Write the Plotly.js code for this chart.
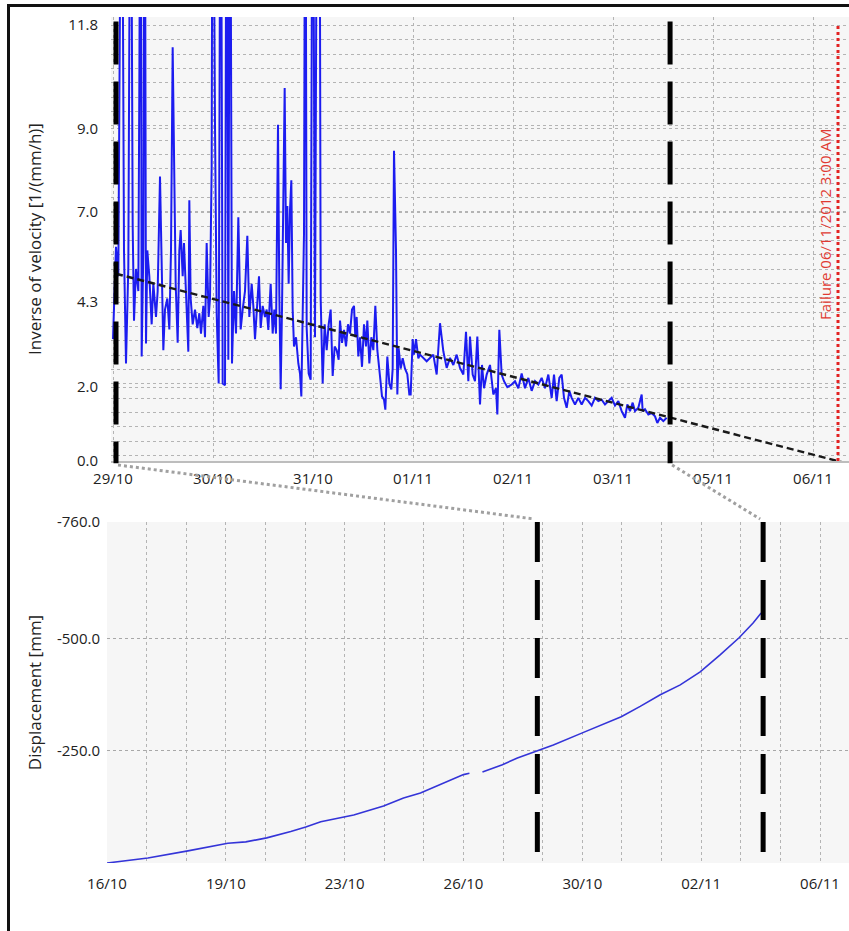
<!DOCTYPE html>
<html>
<head>
<meta charset="utf-8">
<script src="https://cdn.plot.ly/plotly-3.0.1.min.js"></script>
<style>
html,body{margin:0;padding:0;background:#ffffff;overflow:hidden;}
#wrap{position:relative;width:849px;height:931px;}
#chart{position:absolute;left:0;top:0;width:849px;height:931px;}
#frame{position:absolute;left:7px;top:4px;width:900px;height:960px;border-top:3px solid #111;border-left:3px solid #111;pointer-events:none;}
</style>
</head>
<body>
<div id="wrap"><div id="chart"></div><div id="frame"></div></div>
<script>
// ---------- Top chart: inverse of velocity ----------
const velStart = '2012-10-29T00:00:00Z';
const velHours = [
  0, 0.24, 0.72, 1.28, 2.08, 2.64, 3.12, 3.68, 4.24, 4.72,
  5.04, 5.52, 6.08, 6.32, 6.64, 6.88, 7.28, 7.6, 7.92, 8.24,
  8.72, 9.28, 9.68, 10.32, 10.72, 11.28, 11.68, 12.08, 12.48, 13.04,
  13.52, 13.92, 14.32, 14.64, 15.04, 15.52, 15.92, 16.24, 16.72, 17.04,
  17.52, 18.08, 18.32, 18.64, 19.12, 19.68, 20.24, 20.72, 21.12, 21.68,
  22.08, 22.48, 22.96, 23.28, 23.68, 23.92, 24.48, 24.88, 25.36, 25.84,
  26.32, 26.88, 27.28, 27.68, 28.08, 28.56, 29.04, 29.52, 30.08, 30.64,
  31.12, 31.68, 32.24, 32.72, 33.28, 33.68, 34.08, 34.48, 35.04, 35.44,
  35.92, 36.48, 36.88, 37.28, 37.84, 38.32, 38.72, 39.12, 39.6, 39.92,
  40.24, 40.56, 40.88, 41.2, 41.52, 41.84, 42.16, 42.48, 42.8, 43.12,
  43.44, 43.92, 44.48, 44.88, 45.2, 45.52, 45.84, 46.16, 46.48, 46.96,
  47.44, 47.92, 48.48, 49.04, 49.52, 49.84, 50.32, 50.8, 51.28, 51.76,
  52.24, 52.72, 53.2, 53.68, 54.16, 54.48, 54.96, 55.44, 55.92, 56.4,
  56.88, 57.36, 57.84, 58.16, 58.48, 58.88, 59.28, 59.76, 60.24, 60.72,
  61.04, 61.52, 62.0, 62.48, 62.96, 63.44, 64.08, 64.56, 65.04, 65.36,
  65.84, 66.32, 66.8, 67.12, 67.44, 67.92, 68.24, 68.56, 69.04, 69.52,
  70.08, 70.64, 71.12, 71.44, 71.92, 72.24, 72.72, 73.28, 73.68, 75.28,
  76.88, 77.68, 78.48, 79.28, 80.08, 80.88, 81.68, 82.48, 83.28, 84.08,
  84.72, 85.28, 85.68, 86.32, 86.88, 87.44, 88.08, 88.56, 89.04, 89.68,
  90.48, 91.28, 91.92, 92.24, 92.72, 93.28, 93.84, 94.64, 95.68, 96.48,
  97.28, 98.08, 98.88, 99.68, 100.48, 101.28, 102.08, 102.88, 103.68, 104.48,
  105.28, 105.84, 106.48, 107.12, 107.68, 108.24, 108.88, 109.52, 110.08, 110.88,
  111.68, 112.48, 113.28, 114.08, 114.88, 115.68, 116.48, 117.28, 118.08, 118.88,
  119.68, 120.48, 121.28, 122.08, 122.88, 123.44, 124.08, 124.72, 125.28, 126.08,
  126.88, 127.12, 127.68, 128.48, 129.28, 130.08, 130.64, 131.28, 132.08, 132.88
];
const inverseVelocity = [
  3.3, 4.26, 5.8, 5.0, 20, 5.7, 2.64, 5.26, 20, 6.4,
  3.8, 5.2, 4.6, 10.2, 20, 2.83, 5.7, 20, 3.18, 5.7,
  5.0, 3.7, 4.8, 3.9, 4.6, 7.7, 5.3, 3.0, 4.1, 4.4,
  3.56, 5.7, 11.2, 8.1, 4.8, 3.2, 5.7, 6.25, 5.0, 5.9,
  4.5, 2.96, 7.06, 4.4, 3.7, 4.1, 3.6, 4.0, 3.45, 4.2,
  3.35, 5.9, 3.9, 4.4, 7.95, 20, 9.1, 4.0, 2.1, 20,
  2.1, 2.05, 20, 2.74, 20, 2.64, 4.6, 3.45, 6.6, 3.56,
  4.1, 4.6, 6.1, 3.9, 4.8, 4.2, 3.3, 4.1, 5.0, 3.6,
  4.2, 3.9, 4.1, 3.55, 4.8, 3.45, 4.1, 3.45, 9.1, 4.5,
  1.94, 4.1, 6.8, 10.1, 5.9, 6.9, 4.8, 6.8, 7.6, 4.1,
  3.1, 3.35, 2.64, 2.37, 1.75, 3.9, 6.15, 20, 3.6, 2.37,
  2.2, 20, 3.35, 20, 20, 4.4, 2.1, 3.7, 3.0, 3.7,
  4.1, 2.3, 3.1, 3.0, 2.74, 3.8, 3.2, 3.55, 3.1, 3.7,
  3.45, 4.1, 4.2, 3.35, 3.9, 2.83, 3.35, 2.55, 3.7, 3.1,
  3.8, 2.64, 3.35, 3.0, 4.2, 3.0, 2.3, 1.75, 1.66, 1.39,
  2.83, 2.1, 1.94, 2.5, 8.4, 5.7, 1.8, 3.05, 2.5, 2.78,
  2.5, 2.35, 1.8, 1.8, 3.3, 2.88, 3.3, 2.78, 2.88, 2.7,
  2.88, 2.34, 3.73, 2.97, 2.52, 2.79, 2.6, 2.88, 2.52, 2.34,
  3.5, 2.16, 3.37, 2.34, 2.16, 3.37, 1.53, 2.6, 1.97, 2.34,
  2.6, 1.8, 1.97, 1.26, 3.55, 2.34, 2.16, 2.0, 2.07, 2.16,
  1.97, 2.37, 1.97, 2.25, 1.9, 2.16, 2.07, 2.25, 1.97, 2.34,
  1.71, 2.34, 1.62, 2.25, 2.34, 1.71, 1.44, 1.9, 1.71, 1.53,
  1.71, 1.53, 1.71, 1.62, 1.5, 1.71, 1.62, 1.66, 1.53, 1.62,
  1.71, 1.5, 1.62, 1.35, 1.17, 1.53, 1.35, 1.58, 1.35, 1.44,
  1.8, 1.35, 1.4, 1.26, 1.3, 1.21, 1.03, 1.17, 1.08, 1.17
];
const trendHours = [0.72, 174, 176.6];
const trendValues = [5.07, 0, -0.08];
const velTickHours = [0, 24, 48, 72, 96, 120, 144, 168];
const velTickLabels = ['29/10', '30/10', '31/10', '01/11', '02/11', '03/11', '05/11', '06/11'];
const velYTickVals = [0, 2.0, 4.3, 6.74, 9.0, 11.8];
const velYTickLabels = ['0.0', '2.0', '4.3', '7.0', '9.0', '11.8'];
const velWindowHours = [0.72, 133.7];
const failureHours = 174;
const failureLabel = 'Failure 06/11/2012 3:00 AM';
const velRangeHours = [-0.48, 176.64];
const velYRange = [0, 12.02];

// ---------- Bottom chart: displacement ----------
const dispStart = '2012-10-16T00:00:00Z';
const dispHours = [
  0, 28.9, 57.2, 85.4, 98.1, 112.9, 129.9, 140.5, 151.1, 168,
  174.4, 195.5, 209.6, 221.6, 252, 256.2, 260, 265.4, 279.5, 290.1,
  302.8, 315.5, 336, 348.7, 363.5, 376.9, 391.1, 405.2, 419.3, 433.4,
  446.8, 456.7, 462.4
];
const displacement = [
  0, -11, -27, -44, -47, -56, -70, -80, -92, -104,
  -107, -127, -145, -156, -197, -200, null, -203, -219, -234,
  -249, -263, -290, -307, -326, -349, -375, -397, -426, -464,
  -502, -535, -557
];
const dispTickHours = [0, 84, 168, 252, 336, 420, 504];
const dispTickLabels = ['16/10', '19/10', '23/10', '26/10', '30/10', '02/11', '06/11'];
const dispYTickVals = [0, -250, -500, -760];
const dispYTickLabels = ['', '-250.0', '-500.0', '-760.0'];
const dispWindowHours = [304.2, 463.8];
const dispRangeHours = [0, 524.5];
const dispYRange = [0, -760];

// ---------- helpers ----------
function hMs(base, h) { return Date.parse(base) + h * 3600000; }
function hDate(base, h) {
  return new Date(hMs(base, h)).toISOString().slice(0, 19).replace('T', ' ');
}
const W = 849, H = 931;
const FONT = 'Open Sans, Noto Sans, sans-serif';
const TXT = '#222222';
const GRID = '#b4b4b4';
const topDomX = [111 / W, 1], topDomY = [(H - 461) / H, (H - 17) / H];
const botDomX = [107 / W, 1], botDomY = [(H - 863) / H, (H - 522) / H];

function paperX(base, h, rangeH, dom) {
  const f = (h - rangeH[0]) / (rangeH[1] - rangeH[0]);
  return dom[0] + f * (dom[1] - dom[0]);
}

const traces = [
  {
    type: 'scatter', mode: 'lines', xaxis: 'x', yaxis: 'y',
    x: velHours.map(h => hDate(velStart, h)), y: inverseVelocity,
    line: { color: '#1c1cf0', width: 2 }, hoverinfo: 'skip'
  },
  {
    type: 'scatter', mode: 'lines', xaxis: 'x', yaxis: 'y',
    x: trendHours.map(h => hDate(velStart, h)), y: trendValues,
    line: { color: '#1a1a1a', width: 2.4, dash: '7px,4px' }, hoverinfo: 'skip'
  },
  {
    type: 'scatter', mode: 'lines', xaxis: 'x2', yaxis: 'y2',
    x: dispHours.map(h => hDate(dispStart, h)), y: displacement,
    connectgaps: false,
    line: { color: '#3434d8', width: 1.6 }, hoverinfo: 'skip'
  }
];

const shapes = [];
velWindowHours.forEach(h => shapes.push({
  type: 'line', xref: 'x', yref: 'y domain',
  x0: hDate(velStart, h), x1: hDate(velStart, h), y0: 0.99, y1: -0.005,
  line: { color: '#000000', width: 5, dash: '43px,17px' }
}));
dispWindowHours.forEach(h => shapes.push({
  type: 'line', xref: 'x2', yref: 'y2 domain',
  x0: hDate(dispStart, h), x1: hDate(dispStart, h), y0: 1, y1: 0,
  line: { color: '#000000', width: 5, dash: '40px,18px' }
}));
shapes.push({
  type: 'line', xref: 'x', yref: 'y',
  x0: hDate(velStart, failureHours), x1: hDate(velStart, failureHours), y0: 0, y1: 11.8,
  line: { color: '#e32222', width: 3, dash: 'dot' }
});
// zoom connectors between the two panels
for (let i = 0; i < 2; i++) {
  shapes.push({
    type: 'line', xref: 'paper', yref: 'paper',
    x0: paperX(velStart, velWindowHours[i], velRangeHours, topDomX) + 2 / W,
    y0: (H - 465) / H,
    x1: paperX(dispStart, dispWindowHours[i], dispRangeHours, botDomX) - 3 / W,
    y1: (H - 519) / H,
    line: { color: '#a0a0a0', width: 3, dash: 'dot' }
  });
}

const axisCommon = {
  showgrid: true, griddash: 'dot', gridcolor: GRID, gridwidth: 1,
  zeroline: false, ticks: '', automargin: false, fixedrange: true,
  tickfont: { family: FONT, size: 15, color: TXT }
};

const layout = {
  width: W, height: H,
  margin: { l: 0, r: 0, t: 0, b: 0 },
  paper_bgcolor: '#ffffff',
  plot_bgcolor: '#f6f6f6',
  showlegend: false,
  font: { family: FONT, color: TXT },
  xaxis: Object.assign({}, axisCommon, {
    type: 'date', domain: topDomX, anchor: 'y',
    range: [hDate(velStart, velRangeHours[0]), hDate(velStart, velRangeHours[1])],
    tickmode: 'array',
    tickvals: velTickHours.map(h => hDate(velStart, h)),
    ticktext: velTickLabels,
    showline: true, linecolor: '#bdbdbd', linewidth: 2,
    ticklabelstandoff: 3
  }),
  yaxis: Object.assign({}, axisCommon, {
    domain: topDomY, anchor: 'x', range: velYRange,
    tickmode: 'array', tickvals: velYTickVals, ticktext: velYTickLabels,
    ticklabelstandoff: 12,
    minor: { tickmode: 'linear', tick0: 0.15, dtick: 0.388, showgrid: true, griddash: 'dot', gridcolor: GRID, gridwidth: 1 },
    title: { text: 'Inverse of velocity [1/(mm/h)]', font: { family: FONT, size: 17, color: TXT }, standoff: 22 }
  }),
  xaxis2: Object.assign({}, axisCommon, {
    type: 'date', domain: botDomX, anchor: 'y2',
    range: [hDate(dispStart, dispRangeHours[0]), hDate(dispStart, dispRangeHours[1])],
    tickmode: 'array',
    tickvals: dispTickHours.map(h => hDate(dispStart, h)),
    ticktext: dispTickLabels,
    ticklabelstandoff: 10,
    minor: { tickmode: 'linear', tick0: hDate(dispStart, 0), dtick: 28 * 3600000, showgrid: true, griddash: 'dot', gridcolor: GRID, gridwidth: 1 }
  }),
  yaxis2: Object.assign({}, axisCommon, {
    domain: botDomY, anchor: 'x2', range: dispYRange,
    tickmode: 'array', tickvals: dispYTickVals, ticktext: dispYTickLabels,
    ticklabelstandoff: 6,
    gridcolor: '#a8a8a8',
    title: { text: 'Displacement [mm]', font: { family: FONT, size: 17, color: TXT }, standoff: 10 }
  }),
  shapes: shapes,
  annotations: [{
    xref: 'x', yref: 'y', x: hDate(velStart, failureHours), y: 6.39,
    text: failureLabel, textangle: -90, showarrow: false,
    xanchor: 'center', yanchor: 'middle', xshift: -13,
    font: { family: FONT, size: 15, color: '#e03a32' }
  }]
};

Plotly.newPlot('chart', traces, layout, { staticPlot: true, displayModeBar: false });
</script>
</body>
</html>
